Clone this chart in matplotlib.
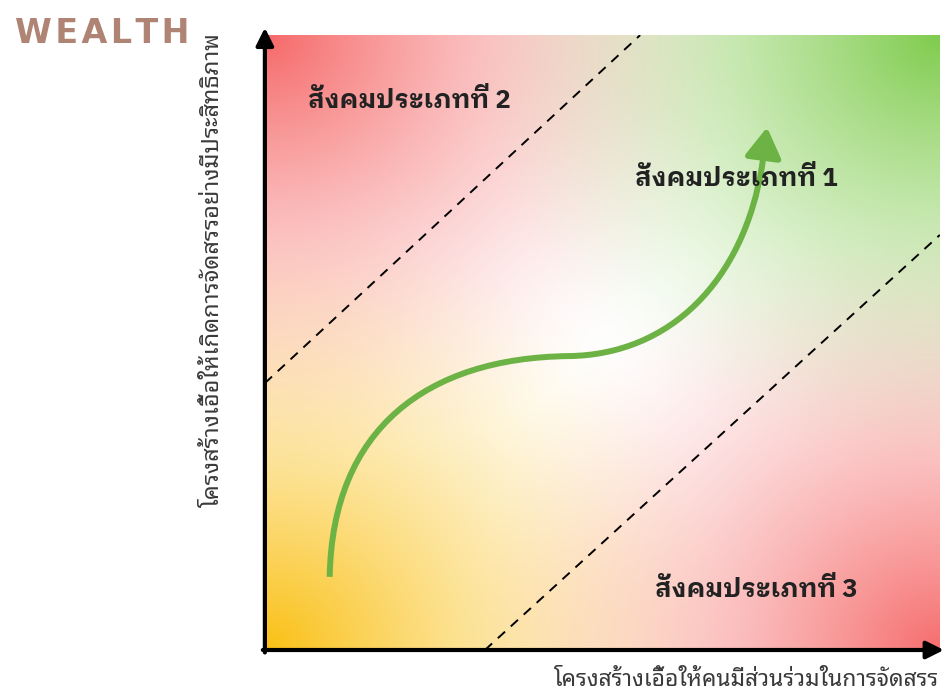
import matplotlib
matplotlib.use("Agg")
import matplotlib.pyplot as plt
from matplotlib.path import Path
from matplotlib.patches import PathPatch
import numpy as np

plt.rcParams['font.family'] = ['Noto Sans Thai Looped', 'DejaVu Sans']

# growth path (S-curve) as two cubic bezier pieces, axes go 0..1
curve_x = [0.096, 0.100, 0.240, 0.450, 0.600, 0.710, 0.737]
curve_y = [0.119, 0.360, 0.475, 0.478, 0.480, 0.600, 0.790]
arrow_tip = (0.744, 0.850)

# dashed boundaries between the society types
upper_x, upper_y = [0.0, 0.556], [0.434, 1.0]
lower_x, lower_y = [0.326, 1.0], [0.0, 0.675]

zone_labels = ["สังคมประเภทที่ 1", "สังคมประเภทที่ 2", "สังคมประเภทที่ 3"]
zone_pos = [(0.548, 0.767), (0.064, 0.894), (0.578, 0.098)]

xlabel = "โครงสร้างเอื้อให้คนมีส่วนร่วมในการจัดสรร"
ylabel = "โครงสร้างเอื้อให้เกิดการจัดสรรอย่างมีประสิทธิภาพ"

green = "#6cb244"

fig = plt.figure(figsize=(9.46, 6.94), dpi=100)
ax = fig.add_axes([0.280, 0.0634, 0.7135, 0.886])

# four-corner background gradient fading to white in the middle
n = 300
gx, gy = np.meshgrid(np.linspace(0, 1, n), np.linspace(0, 1, n))
corners = {(0, 1): (246, 105, 105), (1, 1): (128, 204, 78),
           (0, 0): (250, 192, 20), (1, 0): (246, 110, 110)}
img = np.ones((n, n, 3))
for (cx, cy), col in corners.items():
    d = np.hypot(gx - cx, gy - cy)
    w = np.clip(1 - d / 0.72, 0, 1) ** 1.5
    img -= w[..., None] * (1 - np.array(col) / 255.0)
img = np.clip(img, 0, 1)
ax.imshow(img, origin="lower", extent=[0, 1, 0, 1], aspect="auto", zorder=0)

ax.plot(upper_x, upper_y, color="black", lw=1.4, ls=(0, (5, 4)), zorder=2)
ax.plot(lower_x, lower_y, color="black", lw=1.4, ls=(0, (5, 4)), zorder=2)

codes = [Path.MOVETO] + [Path.CURVE4] * 6
curve = Path(np.column_stack([curve_x, curve_y]), codes)
ax.add_patch(PathPatch(curve, facecolor="none", edgecolor=green, lw=4.3,
                       capstyle="butt", zorder=3))
ax.annotate("", xy=arrow_tip, xytext=(curve_x[-1], curve_y[-1]),
            arrowprops=dict(arrowstyle="-|>,head_length=0.9,head_width=0.55",
                            color=green, lw=4.3, mutation_scale=20,
                            shrinkA=0, shrinkB=0), zorder=3)

for lab, (x, y) in zip(zone_labels, zone_pos):
    ax.text(x, y, lab, ha="left", va="center", fontsize=18.5, fontweight="bold",
            family=['IBM Plex Sans Thai Looped', 'Noto Sans Thai Looped', 'DejaVu Sans'],
            color="#222222", zorder=4)

ax.set_xlim(0, 1)
ax.set_ylim(0, 1)
ax.set_xticks([])
ax.set_yticks([])
for s in ax.spines.values():
    s.set_visible(False)

# axis arrows
ax.annotate("", xy=(0, 1.012), xytext=(0, -0.004), xycoords="axes fraction",
            arrowprops=dict(arrowstyle="-|>,head_length=0.7,head_width=0.35",
                            color="black", lw=3, mutation_scale=15, shrinkA=0, shrinkB=0),
            annotation_clip=False)
ax.annotate("", xy=(1.006, 0), xytext=(-0.003, 0), xycoords="axes fraction",
            arrowprops=dict(arrowstyle="-|>,head_length=0.7,head_width=0.35",
                            color="black", lw=3, mutation_scale=15, shrinkA=0, shrinkB=0),
            annotation_clip=False)

fig.text(0.225, 0.611, ylabel, rotation=90, ha="center", va="center",
         fontsize=17, color="#3a3a3a")
fig.text(0.585, 0.020, xlabel, ha="left", va="center", fontsize=16.4, color="#3a3a3a")

fig.text(0.016, 0.938, "\u200a".join("WEALTH"), ha="left", va="baseline", fontsize=24,
         fontweight="bold", family="DejaVu Sans", color="#b08474")

fig.savefig("out.png")
